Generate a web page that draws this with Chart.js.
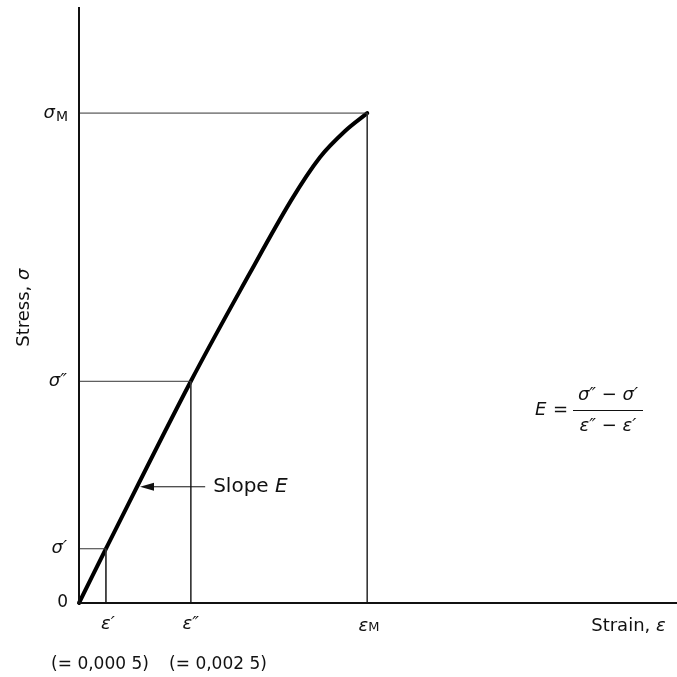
<!DOCTYPE html>
<html>
<head>
<meta charset="utf-8">
<script src="https://cdn.jsdelivr.net/npm/chart.js@4.4.0/dist/chart.umd.min.js"></script>
<style>
  body { margin: 0; background: #fff; }
  #wrap { width: 677px; height: 677px; }
</style>
</head>
<body>
<div id="wrap"><canvas id="myChart" width="677" height="677"></canvas></div>
<script>
// axis units are arbitrary (0..100)
const strainPts = [0, 4.5, 18.7, 28.6, 35.5, 40.3, 44.5, 48.2];
const stressPts = [0, 9.1, 37.2, 55.4, 67.6, 74.8, 79.2, 82.2];

// marked points: eps', eps'', eps_M and sigma', sigma'', sigma_M
const markStrain = [4.5, 18.7, 48.2];
const markStress = [9.1, 37.2, 82.2];
const strainLabels = ["\u03B5\u2032", "\u03B5\u2033", "\u03B5"];
const stressLabels = ["\u03C3\u2032", "\u03C3\u2033", "\u03C3"];
const valueNotes = ["(= 0,000 5)", "(= 0,002 5)"];

const axisMax = 100;
const slopeArrow = { y: 19.5, from: 21.1, to: 10.2 };

const curve = strainPts.map((x, i) => ({ x: x, y: stressPts[i] }));

// thin construction lines for each marked point
const guideSets = markStrain.map((sx, i) => ({
  data: [{ x: 0, y: markStress[i] }, { x: sx, y: markStress[i] }, { x: sx, y: 0 }],
  borderColor: "#333",
  borderWidth: 1,
  pointRadius: 0,
  showLine: true,
  clip: false
}));

const fontFam = "'DejaVu Sans', sans-serif";

const labelPlugin = {
  id: "labels",
  afterDraw(chart) {
    const c = chart.ctx;
    const xs = chart.scales.x, ys = chart.scales.y;
    const px = v => xs.getPixelForValue(v);
    const py = v => ys.getPixelForValue(v);
    c.save();
    c.fillStyle = "#111";
    c.strokeStyle = "#111";

    // stress labels on the left
    c.textBaseline = "middle";
    c.textAlign = "right";
    c.font = "italic 18px " + fontFam;
    c.fillText(stressLabels[0], 67, py(markStress[0]));
    c.fillText(stressLabels[1], 67, py(markStress[1]));
    c.fillText(stressLabels[2], 55, py(markStress[2]));
    c.font = "14px " + fontFam;
    c.textAlign = "left";
    c.fillText("M", 56, py(markStress[2]) + 4);
    c.font = "17px " + fontFam;
    c.textAlign = "right";
    c.fillText("0", 68, py(0));

    // strain labels under the axis
    c.textAlign = "center";
    c.font = "italic 18px " + fontFam;
    c.fillText(strainLabels[0], px(markStrain[0]) + 2, 624);
    c.fillText(strainLabels[1], px(markStrain[1]), 624);
    c.textAlign = "right";
    c.fillText(strainLabels[2], px(markStrain[2]) + 1, 626);
    c.font = "13px " + fontFam;
    c.textAlign = "left";
    c.fillText("M", px(markStrain[2]) + 1, 628);

    c.font = "17px " + fontFam;
    c.textAlign = "center";
    c.fillText(valueNotes[0], 100, 665);
    c.fillText(valueNotes[1], 218, 665);

    // axis titles
    c.textAlign = "right";
    c.font = "18px " + fontFam;
    c.fillText("Strain, ", 656, 626);
    c.font = "italic 18px " + fontFam;
    c.textAlign = "left";
    c.fillText("\u03B5", 656, 626);

    c.save();
    c.translate(24, 312);
    c.rotate(-Math.PI / 2);
    c.textAlign = "right";
    c.font = "18px " + fontFam;
    c.fillText("Stress, ", 32, 0);
    c.font = "italic 18px " + fontFam;
    c.textAlign = "left";
    c.fillText("\u03C3", 32, 0);
    c.restore();

    // slope arrow
    const ay = py(slopeArrow.y);
    const ax0 = px(slopeArrow.from), ax1 = px(slopeArrow.to);
    c.lineWidth = 1;
    c.beginPath();
    c.moveTo(ax0, ay);
    c.lineTo(ax1 + 8, ay);
    c.stroke();
    c.beginPath();
    c.moveTo(ax1, ay);
    c.lineTo(ax1 + 14, ay - 4);
    c.lineTo(ax1 + 14, ay + 4);
    c.closePath();
    c.fill();
    c.textAlign = "left";
    c.font = "20px " + fontFam;
    c.fillText("Slope ", ax0 + 8, ay);
    const w = c.measureText("Slope ").width;
    c.font = "italic 20px " + fontFam;
    c.fillText("E", ax0 + 8 + w, ay);

    // modulus formula
    c.font = "italic 18px " + fontFam;
    c.textAlign = "left";
    c.fillText("E", 535, 410);
    c.font = "18px " + fontFam;
    c.fillText("=", 553, 410);
    c.font = "italic 18px " + fontFam;
    c.textAlign = "center";
    c.fillText("\u03C3\u2033 \u2212 \u03C3\u2032", 608, 395);
    c.fillText("\u03B5\u2033 \u2212 \u03B5\u2032", 608, 426);
    c.beginPath();
    c.moveTo(573, 410.5);
    c.lineTo(643, 410.5);
    c.stroke();
    c.restore();
  }
};

new Chart("myChart", {
  type: "scatter",
  data: {
    datasets: [
      {
        data: [{ x: 0, y: axisMax }, { x: 0, y: 0 }, { x: axisMax, y: 0 }],
        borderColor: "#111",
        borderWidth: 2,
        pointRadius: 0,
        showLine: true,
        clip: false
      },
      ...guideSets,
      {
        data: curve,
        borderColor: "#000",
        borderWidth: 4,
        pointRadius: 0,
        showLine: true,
        tension: 0.35,
        borderCapStyle: "round",
        clip: false
      }
    ]
  },
  options: {
    responsive: false,
    animation: false,
    layout: { padding: { left: 79, right: 0, top: 7, bottom: 74 } },
    plugins: { legend: { display: false }, tooltip: { enabled: false } },
    scales: {
      x: { type: "linear", min: 0, max: axisMax, display: false },
      y: { type: "linear", min: 0, max: axisMax, display: false }
    }
  },
  plugins: [labelPlugin]
});
</script>
</body>
</html>
